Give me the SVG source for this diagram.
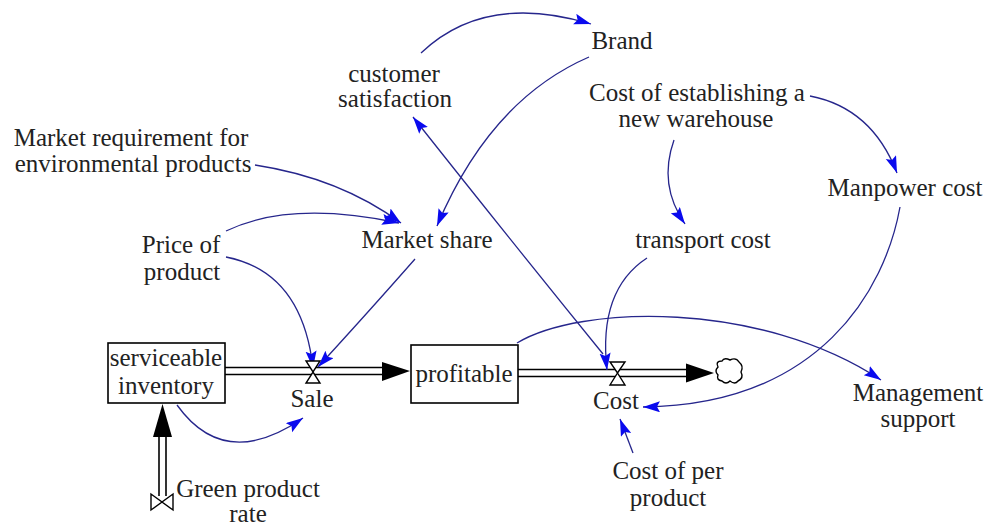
<svg xmlns="http://www.w3.org/2000/svg" width="990" height="528" viewBox="0 0 990 528">
<defs>
<style>
text{font-family:"Liberation Serif","Times New Roman",serif;font-size:25px;fill:#222;text-anchor:middle}
.info{fill:none;stroke:#26268c;stroke-width:1.3}
.pipe{fill:none;stroke:#000;stroke-width:1.6}
.box{fill:#fff;stroke:#000;stroke-width:1.6}
.valve{fill:#fff;stroke:#000;stroke-width:1.4}
.parrow{fill:#000}
</style>
<marker id="ah" markerUnits="userSpaceOnUse" markerWidth="18" markerHeight="13" refX="17" refY="5.5" orient="auto">
<path d="M0,0 L17,5.5 L0,11 L3,5.5 Z" fill="#0a0aee"/>
</marker>
</defs>
<rect width="990" height="528" fill="#fff"/>

<g id="connectors">
<g id="pipe-sale">
<line class="pipe" x1="225" y1="367.5" x2="384" y2="367.5"/>
<line class="pipe" x1="225" y1="374.5" x2="384" y2="374.5"/>
<path class="parrow" d="M382,362 L410,371 L382,381 Z"/>
</g>
<g id="pipe-cost">
<line class="pipe" x1="518" y1="369.5" x2="688" y2="369.5"/>
<line class="pipe" x1="518" y1="376.5" x2="688" y2="376.5"/>
<path class="parrow" d="M686,363.5 L714,373 L686,382.5 Z"/>
</g>
<g id="pipe-green">
<line class="pipe" x1="159" y1="435" x2="159" y2="496"/>
<line class="pipe" x1="166" y1="435" x2="166" y2="496"/>
<path class="parrow" d="M153,437 L162.5,404 L172,437 Z"/>
</g>
<path class="info" d="M421,53 Q485,-8 591,24" marker-end="url(#ah)"/>
<path class="info" d="M589,57 Q490,100 437,226" marker-end="url(#ah)"/>
<path class="info" d="M603,354 Q512,242 413,117" marker-end="url(#ah)"/>
<path class="info" d="M255,165 Q340,178 401,223" marker-end="url(#ah)"/>
<path class="info" d="M226,231 Q290,200 399,223" marker-end="url(#ah)"/>
<path class="info" d="M226,257 Q302,272 313,368" marker-end="url(#ah)"/>
<path class="info" d="M415,259 Q372,308 318,367" marker-end="url(#ah)"/>
<path class="info" d="M177,405 Q225,472 303,418" marker-end="url(#ah)"/>
<path class="info" d="M674,140 Q658,185 685,224" marker-end="url(#ah)"/>
<path class="info" d="M810,96 Q872,108 897,173" marker-end="url(#ah)"/>
<path class="info" d="M647,258 Q598,290 607,370" marker-end="url(#ah)"/>
<path class="info" d="M900,207 C885,290 820,405 643,407" marker-end="url(#ah)"/>
<path class="info" d="M517,343 C580,305 760,300 881,380" marker-end="url(#ah)"/>
<path class="info" d="M633,453 L620,419" marker-end="url(#ah)"/>
</g>

<g id="serviceable-inventory">
<rect class="box" x="108" y="343" width="117" height="60"/>
<text x="166" y="366">serviceable</text>
<text x="166" y="394">inventory</text>
</g>
<g id="profitable">
<rect class="box" x="411" y="345" width="107" height="58"/>
<text x="464" y="382">profitable</text>
</g>
<g id="sale">
<path class="valve" d="M306,361 L320,361 L313,372 Z M306,383 L320,383 L313,372 Z"/>
<text x="312" y="407">Sale</text>
</g>
<g id="cost">
<path class="valve" d="M610,362 L625,362 L617.5,373 Z M610,385 L625,385 L617.5,373 Z"/>
<text x="616" y="409">Cost</text>
</g>
<g id="cloud">
<path d="M718,367 Q715,361 722,361 Q724,357 730,360 Q736,357 739,362 Q744,366 741,372 Q744,378 738,381 Q735,385 730,381 Q726,385 722,381 Q716,380 718,375 Q714,371 718,367 Z" fill="#fff" stroke="#000" stroke-width="1.4"/>
</g>
<g id="green-valve">
<path class="valve" d="M151,494 L151,510 L162,502 Z M173,494 L173,510 L162,502 Z"/>
</g>
<g id="green-product-rate">
<text x="248" y="497">Green product</text>
<text x="248" y="522">rate</text>
</g>
<g id="brand"><text x="622" y="49">Brand</text></g>
<g id="customer-satisfaction">
<text x="394" y="82">customer</text>
<text x="395" y="107">satisfaction</text>
</g>
<g id="market-requirement">
<text x="131" y="146">Market requirement for</text>
<text x="133" y="172">environmental products</text>
</g>
<g id="price-of-product">
<text x="181" y="253">Price of</text>
<text x="182" y="280">product</text>
</g>
<g id="market-share"><text x="427" y="248">Market share</text></g>
<g id="cost-of-establishing">
<text x="697" y="101">Cost of establishing a</text>
<text x="696" y="127">new warehouse</text>
</g>
<g id="manpower-cost"><text x="905" y="196">Manpower cost</text></g>
<g id="transport-cost"><text x="703" y="248">transport cost</text></g>
<g id="management-support">
<text x="918" y="401">Management</text>
<text x="918" y="427">support</text>
</g>
<g id="cost-of-per-product">
<text x="668" y="479">Cost of per</text>
<text x="668" y="506">product</text>
</g>
</svg>
